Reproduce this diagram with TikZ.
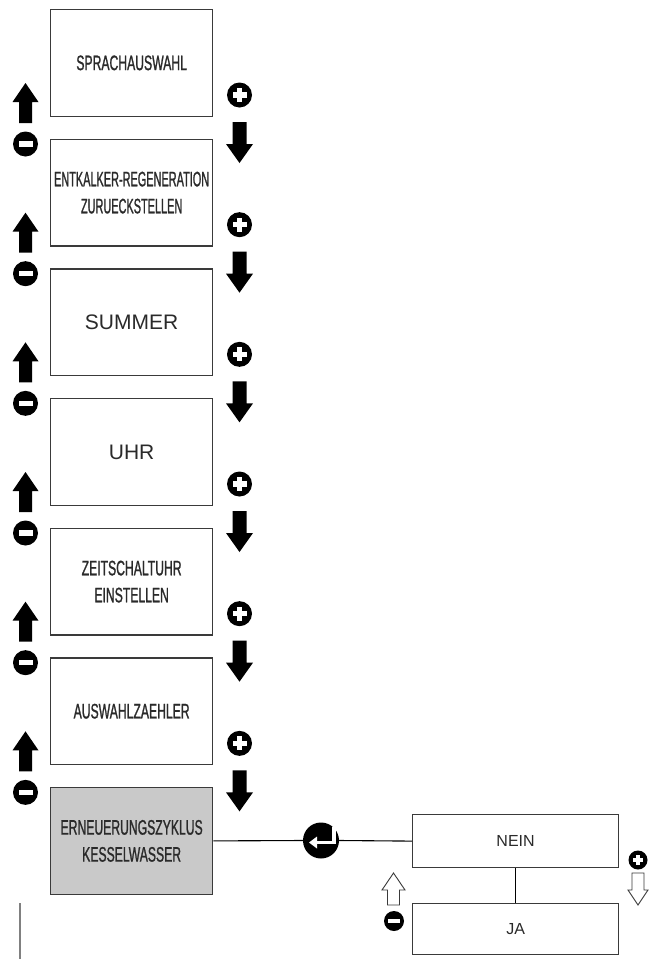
\documentclass[tikz,border=0pt]{standalone}
\usepackage{fontspec}
\setmainfont{Liberation Sans}
\newfontfamily\condfont[FakeStretch=0.58,FakeBold=1]{Liberation Sans}
\newfontfamily\condnarrow[FakeStretch=0.52,FakeBold=1]{Liberation Sans}
\definecolor{boxgray}{HTML}{3A3A3A}
\definecolor{textgray}{HTML}{2A2A2A}
\definecolor{boxfill}{HTML}{C9C9C9}
\tikzset{
  menubox/.style={draw=boxgray, line width=1.3pt, minimum width=162pt, minimum height=106.5pt,
    inner sep=0pt, anchor=north west, align=center, text=textgray,
    font=\condfont\fontsize{21}{27}\selectfont},
  narrowfont/.style={font=\condnarrow\fontsize{21}{27}\selectfont},
  plainfont/.style={font=\fontsize{21}{24}\selectfont},
  choicebox/.style={draw=boxgray, line width=1.2pt, minimum width=206pt, inner sep=0pt,
    anchor=north west, text=textgray, font=\fontsize{16}{19}\selectfont},
  link/.style={draw=black, line width=1.1pt},
  bigup/.pic={\fill[black] (0,0) -- (13,19) -- (6.5,19) -- (6.5,40) -- (-6.5,40) -- (-6.5,19) -- (-13,19) -- cycle;},
  bigdown/.pic={\fill[black] (-7,0) -- (7,0) -- (7,22) -- (13.5,22) -- (0,41) -- (-13.5,22) -- (-7,22) -- cycle;},
  plussign/.pic={\fill[black] (0,0) circle (12.5);
    \fill[white] (-7,-2.6) rectangle (7,2.6);
    \fill[white] (-2.6,-7) rectangle (2.6,7);},
  minussign/.pic={\fill[black] (0,0) circle (12.5);
    \fill[white] (-7,-2.6) rectangle (7,2.6);},
  outup/.pic={\draw[boxgray, fill=white, line width=0.9pt, line join=miter]
    (0,0) -- (11.5,17) -- (6,17) -- (6,32) -- (-6,32) -- (-6,17) -- (-11.5,17) -- cycle;},
  outdown/.pic={\draw[boxgray, fill=white, line width=0.9pt, line join=miter]
    (-6,0) -- (6,0) -- (6,17) -- (10,17) -- (0,32) -- (-10,17) -- (-6,17) -- cycle;},
}
\begin{document}
\begin{tikzpicture}[x=1pt,y=-1pt]
\useasboundingbox[fill=white] (0,0) rectangle (656,959);

% menu boxes
\node[menubox] (b1) at (50,9) {SPRACHAUSWAHL};
\node[menubox, narrowfont] (b2) at (50,138.7) {ENTKALKER-REGENERATION\\ZURUECKSTELLEN};
\node[menubox, plainfont] (b3) at (50,268.3) {SUMMER};
\node[menubox, plainfont] (b4) at (50,398) {UHR};
\node[menubox] (b5) at (50,527.7) {ZEITSCHALTUHR\\EINSTELLEN};
\node[menubox] (b6) at (50,657.3) {AUSWAHLZAEHLER};
\node[menubox, fill=boxfill] (b7) at (50,787) {ERNEUERUNGSZYKLUS\\KESSELWASSER};

% navigation arrows between the boxes
\foreach \i in {0,...,5}{
  \pgfmathsetmacro\t{9+129.67*\i}
  \pic at (25.5,{\t+74}) {bigup};
  \pic at (25.5,{\t+135}) {minussign};
  \pic at (239.5,{\t+86}) {plussign};
  \pic at (239.5,{\t+113}) {bigdown};
}

% choice boxes
\node[choicebox, minimum height=53pt] (nein) at (412,814) {NEIN};
\node[choicebox, minimum height=51pt] (ja) at (412,903) {JA};

% enter button and links
\node[circle, fill=black, minimum size=36pt, inner sep=0pt] (ent) at (321,840.5) {};
\draw[link] (b7.east) -- (ent.west);
\draw[link] (ent.east) -- (nein.west);
\draw[link] (nein.south) -- (ja.north);
\draw[white, line width=3.2pt] (334,827) -- (334,842.5) -- (315,842.5);
\fill[white] (309,842.5) -- (317,836.5) -- (317,848.5) -- cycle;

% small outlined arrows
\pic at (393.5,873) {outup};
\pic[scale=0.8] at (394,921) {minussign};
\pic[scale=0.76] at (638,860) {plussign};
\pic at (638,873) {outdown};

% stray line bottom left
\draw[gray, line width=1.3pt] (20,903) -- (20,959);
\end{tikzpicture}
\end{document}
